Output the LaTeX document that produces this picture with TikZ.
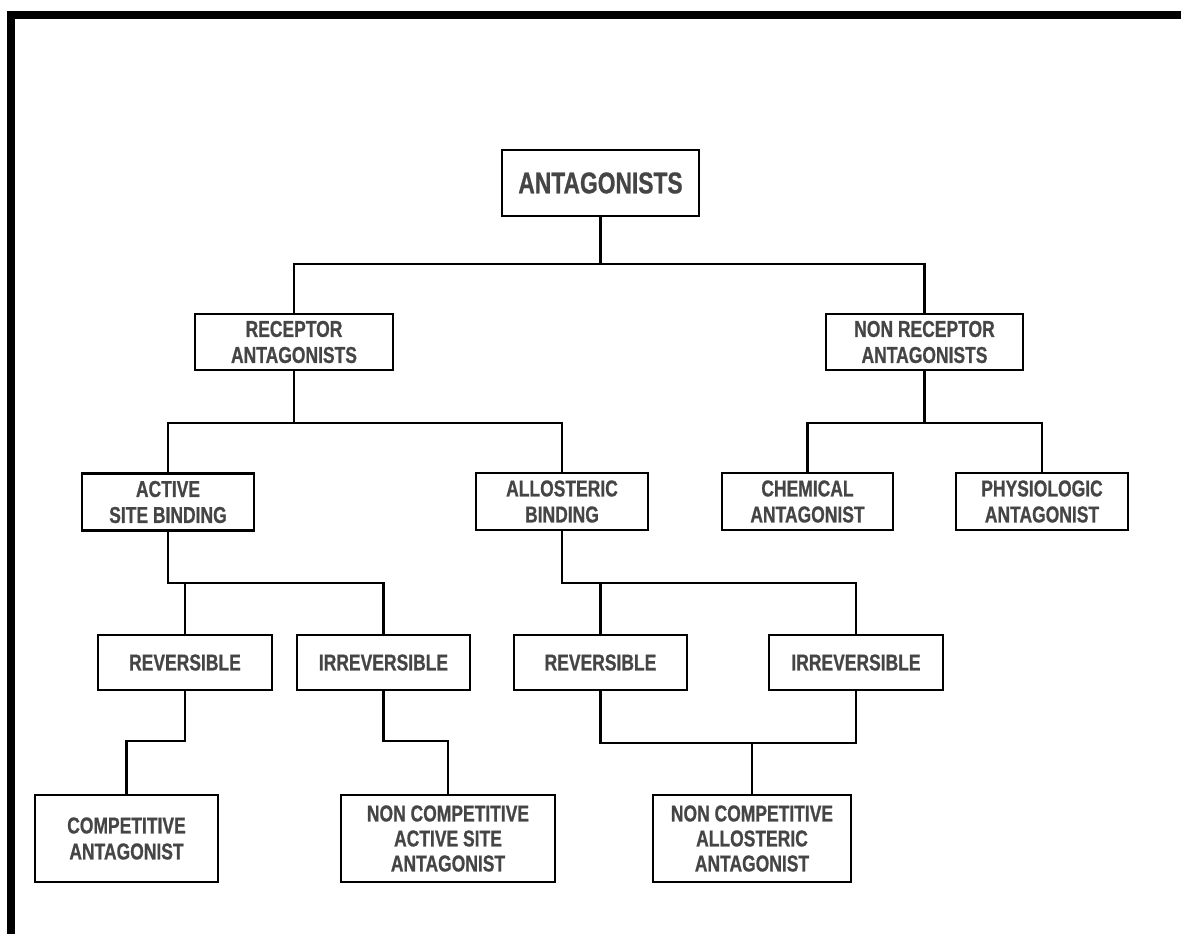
\documentclass[tikz,border=0pt]{standalone}
\usepackage{fontspec}
\newfontfamily\lbl[FakeStretch=0.76,FakeBold=0.8]{Liberation Sans}
\definecolor{txt}{HTML}{454545}
\begin{document}
\begin{tikzpicture}[x=1pt,y=-1pt,
  box/.style={draw=black,line width=2.6pt,rectangle,inner sep=0pt,align=center,text=txt,
    font=\lbl\bfseries\fontsize{23}{26}\selectfont},
  big/.style={font=\lbl\bfseries\fontsize{30}{34}\selectfont},
  conn/.style={draw=black,line width=2.2pt}]
\useasboundingbox (0,0) rectangle (1181,934);
\fill[black] (7,11) rectangle (1181,19);
\fill[black] (7,11) rectangle (15,934);
% nodes
\node[box,big,minimum width=197pt,minimum height=66pt] (ant) at (600.5,183) {ANTAGONISTS};
\node[box,minimum width=198pt,minimum height=56pt] (rec) at (294,342) {RECEPTOR\\ANTAGONISTS};
\node[box,minimum width=197pt,minimum height=56pt] (nrec) at (924.5,342) {NON RECEPTOR\\ANTAGONISTS};
\node[box,minimum width=172pt,minimum height=57pt] (act) at (168,502) {ACTIVE\\SITE BINDING};
\node[box,minimum width=172pt,minimum height=57pt] (allo) at (562,501.5) {ALLOSTERIC\\BINDING};
\node[box,minimum width=171pt,minimum height=57pt] (chem) at (807.5,501.5) {CHEMICAL\\ANTAGONIST};
\node[box,minimum width=172pt,minimum height=57pt] (phys) at (1042,501.5) {PHYSIOLOGIC\\ANTAGONIST};
\node[box,minimum width=174pt,minimum height=55pt] (rev1) at (185,662.5) {REVERSIBLE};
\node[box,minimum width=173pt,minimum height=55pt] (irr1) at (383.5,662.5) {IRREVERSIBLE};
\node[box,minimum width=173pt,minimum height=55pt] (rev2) at (600.5,662.5) {REVERSIBLE};
\node[box,minimum width=174pt,minimum height=55pt] (irr2) at (856,662.5) {IRREVERSIBLE};
\node[box,minimum width=183pt,minimum height=87pt] (comp) at (126.5,838.5) {COMPETITIVE\\ANTAGONIST};
\node[box,minimum width=214pt,minimum height=87pt,font=\lbl\bfseries\fontsize{23}{25}\selectfont] (ncas) at (448,838.5) {NON COMPETITIVE\\ACTIVE SITE\\ANTAGONIST};
\node[box,minimum width=198pt,minimum height=87pt,font=\lbl\bfseries\fontsize{23}{25}\selectfont] (ncal) at (752,838.5) {NON COMPETITIVE\\ALLOSTERIC\\ANTAGONIST};
% junctions
\coordinate (j1) at (600.5,264);
\coordinate (j2) at (294,423);
\coordinate (j3) at (924.5,423);
\coordinate (j4) at (168,583);
\coordinate (j5) at (562,583);
\coordinate (j6) at (126.5,741);
\coordinate (j7) at (448,741);
\coordinate (j8) at (752,743);
% connectors
\draw[conn] (ant.south) -- (j1);
\draw[conn] (rec.north) |- (j1) -| (nrec.north);
\draw[conn] (rec.south) -- (j2);
\draw[conn] (act.north) |- (j2) -| (allo.north);
\draw[conn] (nrec.south) -- (j3);
\draw[conn] (chem.north) |- (j3) -| (phys.north);
\draw[conn] (act.south) -- (j4) -| (irr1.north);
\draw[conn] (rev1.north) -- (rev1.north |- j4);
\draw[conn] (allo.south) -- (j5) -| (irr2.north);
\draw[conn] (rev2.north) -- (rev2.north |- j5);
\draw[conn] (rev1.south) |- (j6) -- (comp.north);
\draw[conn] (irr1.south) |- (j7) -- (ncas.north);
\draw[conn] (rev2.south) |- (j8) -| (irr2.south);
\draw[conn] (j8) -- (ncal.north);
\end{tikzpicture}
\end{document}
